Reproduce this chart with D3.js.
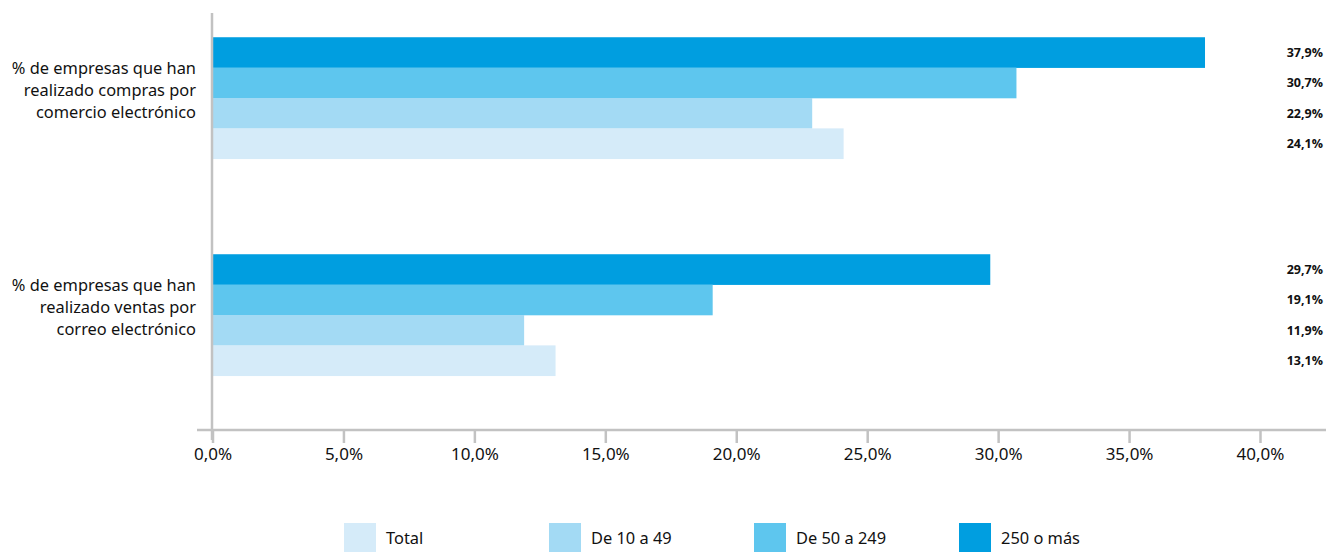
<!DOCTYPE html>
<html>
<head>
<meta charset="utf-8">
<script src="https://cdn.jsdelivr.net/npm/d3@7"></script>
<style>
  html, body { margin: 0; padding: 0; background: #fff; }
  svg { display: block; font-family: "Noto Sans", "Open Sans", sans-serif; }
</style>
</head>
<body>
<svg id="chart" width="1326" height="553"></svg>
<script>
// Categories (each label split into its display lines)
const categories = [
  ["% de empresas que han", "realizado compras por", "comercio electrónico"],
  ["% de empresas que han", "realizado ventas por", "correo electrónico"]
];
// Series, listed top to bottom inside each group
const seriesNames = ["250 o más", "De 50 a 249", "De 10 a 49", "Total"];
const values250 = [37.9, 29.7];
const values50 = [30.7, 19.1];
const values10 = [22.9, 11.9];
const valuesTotal = [24.1, 13.1];
const seriesValues = [values250, values50, values10, valuesTotal];
const colors = ["#009ee0", "#5ec6ee", "#a3daf4", "#d5ebf9"];
// Axis ticks
const tickValues = [0, 5, 10, 15, 20, 25, 30, 35, 40];
// Legend order
const legendOrder = ["Total", "De 10 a 49", "De 50 a 249", "250 o más"];

const svg = d3.select("#chart");
const fmt = v => d3.format(".1f")(v).replace(".", ",") + "%";

const x = d3.scaleLinear().domain([0, 40]).range([212.5, 1260]);
const y = d3.scaleBand()
  .domain(d3.range(categories.length))
  .range([-10.5, 423.5])
  .paddingInner(0.44)
  .paddingOuter(0.22);
const ySub = d3.scaleBand()
  .domain(seriesNames)
  .range([0, y.bandwidth()]);

// Bars
const rows = [];
categories.forEach((c, i) => {
  seriesNames.forEach((s, j) => rows.push({ cat: i, series: s, idx: j, value: seriesValues[j][i] }));
});

svg.append("g").selectAll("rect")
  .data(rows)
  .join("rect")
  .attr("x", x(0))
  .attr("y", d => y(d.cat) + ySub(d.series))
  .attr("width", d => x(d.value) - x(0))
  .attr("height", ySub.bandwidth() + 0.3)
  .attr("fill", d => colors[d.idx]);

// Value labels at the right edge
svg.append("g").selectAll("text")
  .data(rows)
  .join("text")
  .attr("x", 1323)
  .attr("y", d => y(d.cat) + ySub(d.series) + ySub.bandwidth() / 2)
  .attr("dy", "0.35em")
  .attr("text-anchor", "end")
  .attr("font-family", "'Open Sans', sans-serif")
  .attr("font-weight", "bold")
  .attr("font-size", 12.5)
  .attr("fill", "#111")
  .text(d => fmt(d.value));

// X axis
const xAxis = d3.axisBottom(x)
  .tickValues(tickValues)
  .tickSize(13)
  .tickPadding(5)
  .tickFormat(d => fmt(d));
const gx = svg.append("g").attr("transform", "translate(0,430)").call(xAxis);
gx.select(".domain").remove();
gx.selectAll(".tick line").attr("stroke", "#c2c2c2").attr("stroke-width", 2.5);
gx.selectAll(".tick text")
  .attr("font-family", "'Noto Sans', sans-serif")
  .attr("font-size", 17)
  .attr("fill", "#111");

svg.append("line")
  .attr("x1", 197).attr("x2", 1326)
  .attr("y1", 430).attr("y2", 430)
  .attr("stroke", "#c2c2c2").attr("stroke-width", 2.5);

// Y axis line
svg.append("line")
  .attr("x1", 212).attr("x2", 212)
  .attr("y1", 13).attr("y2", 440)
  .attr("stroke", "#c2c2c2").attr("stroke-width", 2.5);

// Category labels
const catG = svg.append("g");
categories.forEach((lines, i) => {
  const cy = y(i) + y.bandwidth() / 2;
  const t = catG.append("text")
    .attr("text-anchor", "end")
    .attr("font-size", 16.4)
    .attr("fill", "#111");
  lines.forEach((ln, k) => {
    t.append("tspan")
      .attr("x", 196)
      .attr("y", cy - 2 + (k - 1) * 22)
      .text(ln);
  });
});

// Legend
const legend = svg.append("g").attr("transform", "translate(344,523)");
legendOrder.forEach((name, i) => {
  const g = legend.append("g").attr("transform", `translate(${i * 205},0)`);
  g.append("rect")
    .attr("width", 32).attr("height", 29)
    .attr("fill", colors[seriesNames.indexOf(name)]);
  g.append("text")
    .attr("x", 42).attr("y", 15)
    .attr("dy", "0.35em")
    .attr("font-size", 16.4)
    .attr("fill", "#111")
    .text(name);
});
</script>
</body>
</html>
